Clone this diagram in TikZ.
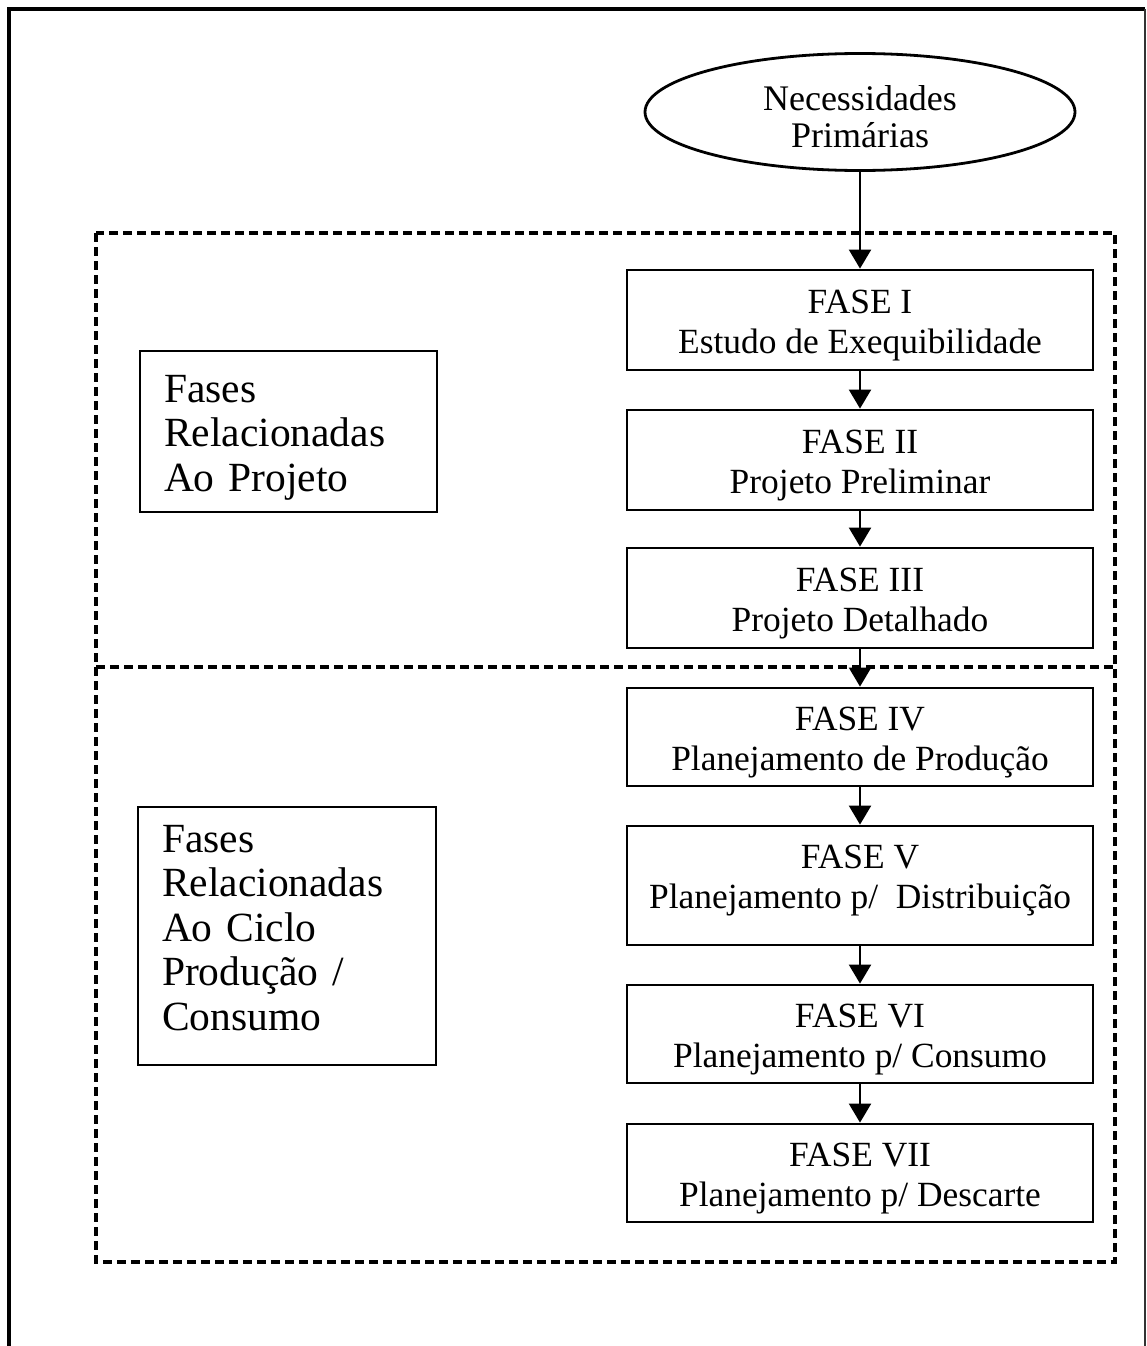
\documentclass[tikz,border=0pt]{standalone}
\usepackage{fontspec}
\setmainfont{Liberation Serif}
\usetikzlibrary{shapes.geometric,arrows.meta}

% struts that lower a node's first line
\newcommand\topstrut{\rule{0pt}{35pt}}
\newcommand\bigstrut{\rule{0pt}{39pt}}

\tikzset{
  phasebox/.style={draw, line width=2.8pt, rectangle, minimum width=466pt,
    inner sep=0pt, align=center, font=\fontsize{35.4}{40}\selectfont},
  groupbox/.style={draw, line width=2.8pt, rectangle, inner xsep=24pt, inner ysep=0pt,
    align=left, font=\fontsize{41.5}{44.5}\selectfont},
  startnode/.style={draw, line width=2.8pt, ellipse, minimum width=430pt,
    minimum height=117pt, inner sep=0pt, align=center, font=\fontsize{36}{37}\selectfont},
  flow/.style={line width=2.2pt, -{Triangle[length=19pt,width=22pt]}},
  region/.style={line width=3.2pt, dash pattern=on 9pt off 5pt},
  frame/.style={line width=3.5pt}
}

\begin{document}
\begin{tikzpicture}[x=1pt,y=-1pt]
  \useasboundingbox (0,0) rectangle (1147,1346);

  % page frame (bottom edge falls outside the picture)
  \draw[frame] (9,1360) -- (9,9) -- (1145,9);
  \draw[line width=2pt, black!80] (1145,9) -- (1145,1360);

  % dashed group regions
  \draw[region] (96,233) rectangle (1115,1262);
  \draw[region] (96,667) -- (1113,667);

  % start
  \node[startnode] (need) at (860,112) {\topstrut Necessidades\\Primárias};

  % phases
  \node[phasebox, minimum height=100pt] (f1) at (860,320) {\topstrut FASE I\\Estudo de Exequibilidade};
  \node[phasebox, minimum height=100pt] (f2) at (860,460) {\topstrut FASE II\\Projeto Preliminar};
  \node[phasebox, minimum height=100pt] (f3) at (860,598) {\topstrut FASE III\\Projeto Detalhado};
  \node[phasebox, minimum height=98pt] (f4) at (860,737) {\topstrut FASE IV\\Planejamento de Produção};
  \node[phasebox, minimum height=119pt] (f5) at (860,885.5)
    {FASE V\\Planejamento p/\ \ Distribuição\rule[-18pt]{0pt}{1pt}};
  \node[phasebox, minimum height=98pt] (f6) at (860,1034) {\topstrut FASE VI\\Planejamento p/ Consumo};
  \node[phasebox, minimum height=98pt] (f7) at (860,1173) {\topstrut FASE VII\\Planejamento p/ Descarte};

  % group labels
  \node[groupbox, text width=249pt, minimum height=161pt] (gproj) at (288.5,431.5)
    {\bigstrut Fases\\Relacionadas\\Ao Projeto};
  \node[groupbox, text width=250pt, minimum height=258pt] (gcycle) at (287,936)
    {Fases\\Relacionadas\\Ao Ciclo\\Produção /\\Consumo\rule[-17pt]{0pt}{1pt}};

  % connectors
  \draw[flow] (need.south) -- (f1.north);
  \draw[flow] (f1.south) -- (f2.north);
  \draw[flow] (f2.south) -- (f3.north);
  \draw[flow] (f3.south) -- (f4.north);
  \draw[flow] (f4.south) -- (f5.north);
  \draw[flow] (f5.south) -- (f6.north);
  \draw[flow] (f6.south) -- (f7.north);
\end{tikzpicture}
\end{document}
